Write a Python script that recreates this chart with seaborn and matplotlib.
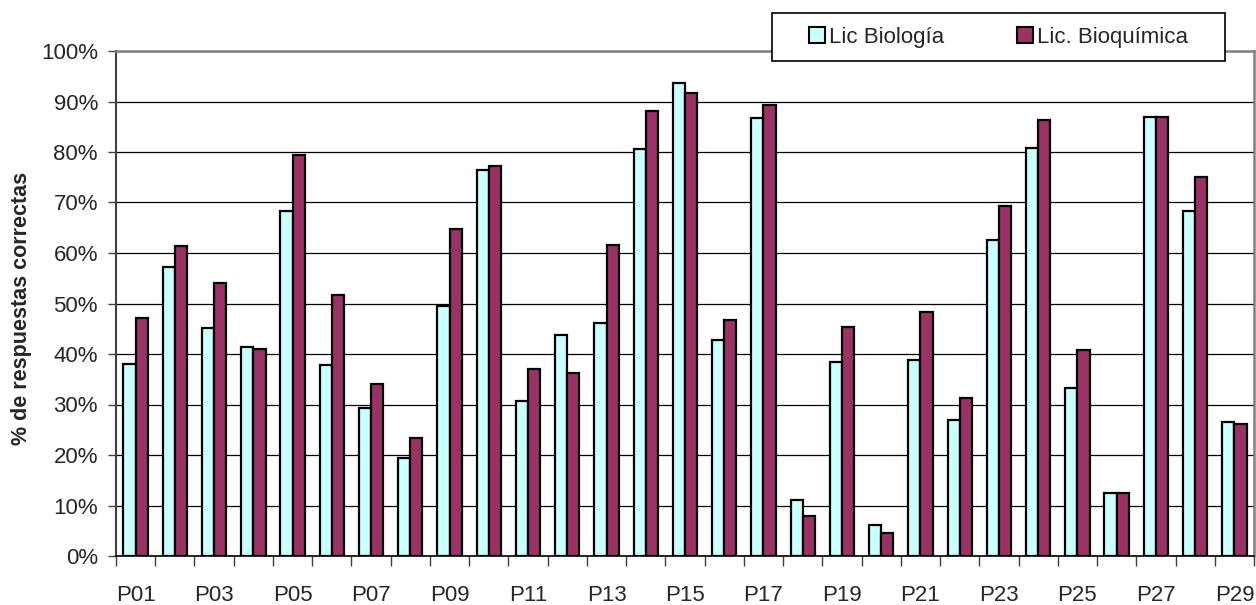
import numpy as np
import pandas as pd
import seaborn as sns
import matplotlib.pyplot as plt
from matplotlib.patches import Patch, Rectangle
from matplotlib.ticker import PercentFormatter

# ── data ─────────────────────────────────────────────────────────────────────
preguntas = [f"P{i:02d}" for i in range(1, 30)]
biologia = [38.1, 57.2, 45.2, 41.4, 68.3, 37.8, 29.3, 19.5, 49.5, 76.4,
            30.7, 43.8, 46.2, 80.6, 93.6, 42.8, 86.8, 11.1, 38.4, 6.1,
            38.8, 26.9, 62.5, 80.8, 33.3, 12.4, 86.9, 68.3, 26.5]
bioquimica = [47.2, 61.4, 54.0, 40.9, 79.5, 51.7, 34.1, 23.3, 64.8, 77.3,
              37.0, 36.3, 61.5, 88.1, 91.6, 46.7, 89.3, 8.0, 45.4, 4.6,
              48.3, 31.2, 69.3, 86.3, 40.8, 12.4, 86.9, 75.0, 26.1]
series = ["Lic Biología", "Lic. Bioquímica"]
colores = {"Lic Biología": "#CCFFFF", "Lic. Bioquímica": "#993366"}

df = pd.DataFrame({
    "pregunta": preguntas * 2,
    "carrera": [series[0]] * len(preguntas) + [series[1]] * len(preguntas),
    "pct": [v / 100 for v in biologia + bioquimica],
})

# ── style ────────────────────────────────────────────────────────────────────
sns.set_theme(style="white")
plt.rcParams["font.family"] = ["Liberation Sans", "DejaVu Sans"]
FS = 16

W, H = 1256, 605
fig = plt.figure(figsize=(W / 100, H / 100), dpi=100)
ax = fig.add_axes([116 / W, 1 - 556 / H, 1138 / W, 505 / H])

sns.barplot(data=df, x="pregunta", y="pct", hue="carrera", order=preguntas,
            hue_order=series, palette=colores, width=0.62, gap=0,
            edgecolor="black", linewidth=1.6, saturation=1, legend=False, ax=ax)

ax.set_xlim(-0.5, len(preguntas) - 0.5)
ax.set_ylim(0, 1)
ax.set_xlabel("")
ax.set_ylabel("% de respuestas correctas", fontsize=15.5, fontweight="bold")
ax.yaxis.set_label_coords(-0.0738, 0.49)

# y axis
ax.set_yticks(np.arange(0, 1.01, 0.1))
ax.yaxis.set_major_formatter(PercentFormatter(1.0, decimals=0))
ax.tick_params(axis="y", length=6, width=1, color="#404040", pad=7, labelsize=FS,
               left=True, direction="out")
ax.yaxis.grid(True, color="black", linewidth=0.9)
ax.set_axisbelow(True)

# x axis: tick marks between categories, labels every other one
ax.set_xticks(np.arange(-0.5, len(preguntas), 1))
ax.set_xticklabels([])
ax.set_xticks(np.arange(0, len(preguntas), 2), minor=True)
ax.set_xticklabels(preguntas[::2], minor=True)
ax.tick_params(axis="x", which="major", length=7, width=1, color="#404040",
               bottom=True, direction="out")
ax.tick_params(axis="x", which="minor", length=0, pad=21, labelsize=FS)

for side in ["top", "right"]:
    ax.spines[side].set_color("#808080")
    ax.spines[side].set_linewidth(1.8)
ax.spines["left"].set_color("#404040")
ax.spines["left"].set_linewidth(1.5)
ax.spines["bottom"].set_color("black")
ax.spines["bottom"].set_linewidth(1.2)

# legend: white box overlapping the top frame, entries centred inside
bx0, by0, bx1, by1 = 772, 13, 1225, 61
box = Rectangle((bx0 / W, 1 - by1 / H), (bx1 - bx0) / W, (by1 - by0) / H,
                transform=fig.transFigure, facecolor="white", edgecolor="black",
                linewidth=1.2, zorder=5)
fig.add_artist(box)

handles = [Patch(facecolor=colores[s], edgecolor="black", linewidth=1.5, label=s)
           for s in series]
leg = fig.legend(handles=handles, ncol=2, loc="center",
                 bbox_to_anchor=((bx0 + bx1) / 2 / W, 1 - (by0 + by1) / 2 / H),
                 fontsize=FS, frameon=False,
                 handlelength=0.72, handleheight=0.72, handletextpad=0.15,
                 columnspacing=3.3, borderpad=0, borderaxespad=0)
leg.set_zorder(6)

fig.savefig("out.png", dpi=100)
